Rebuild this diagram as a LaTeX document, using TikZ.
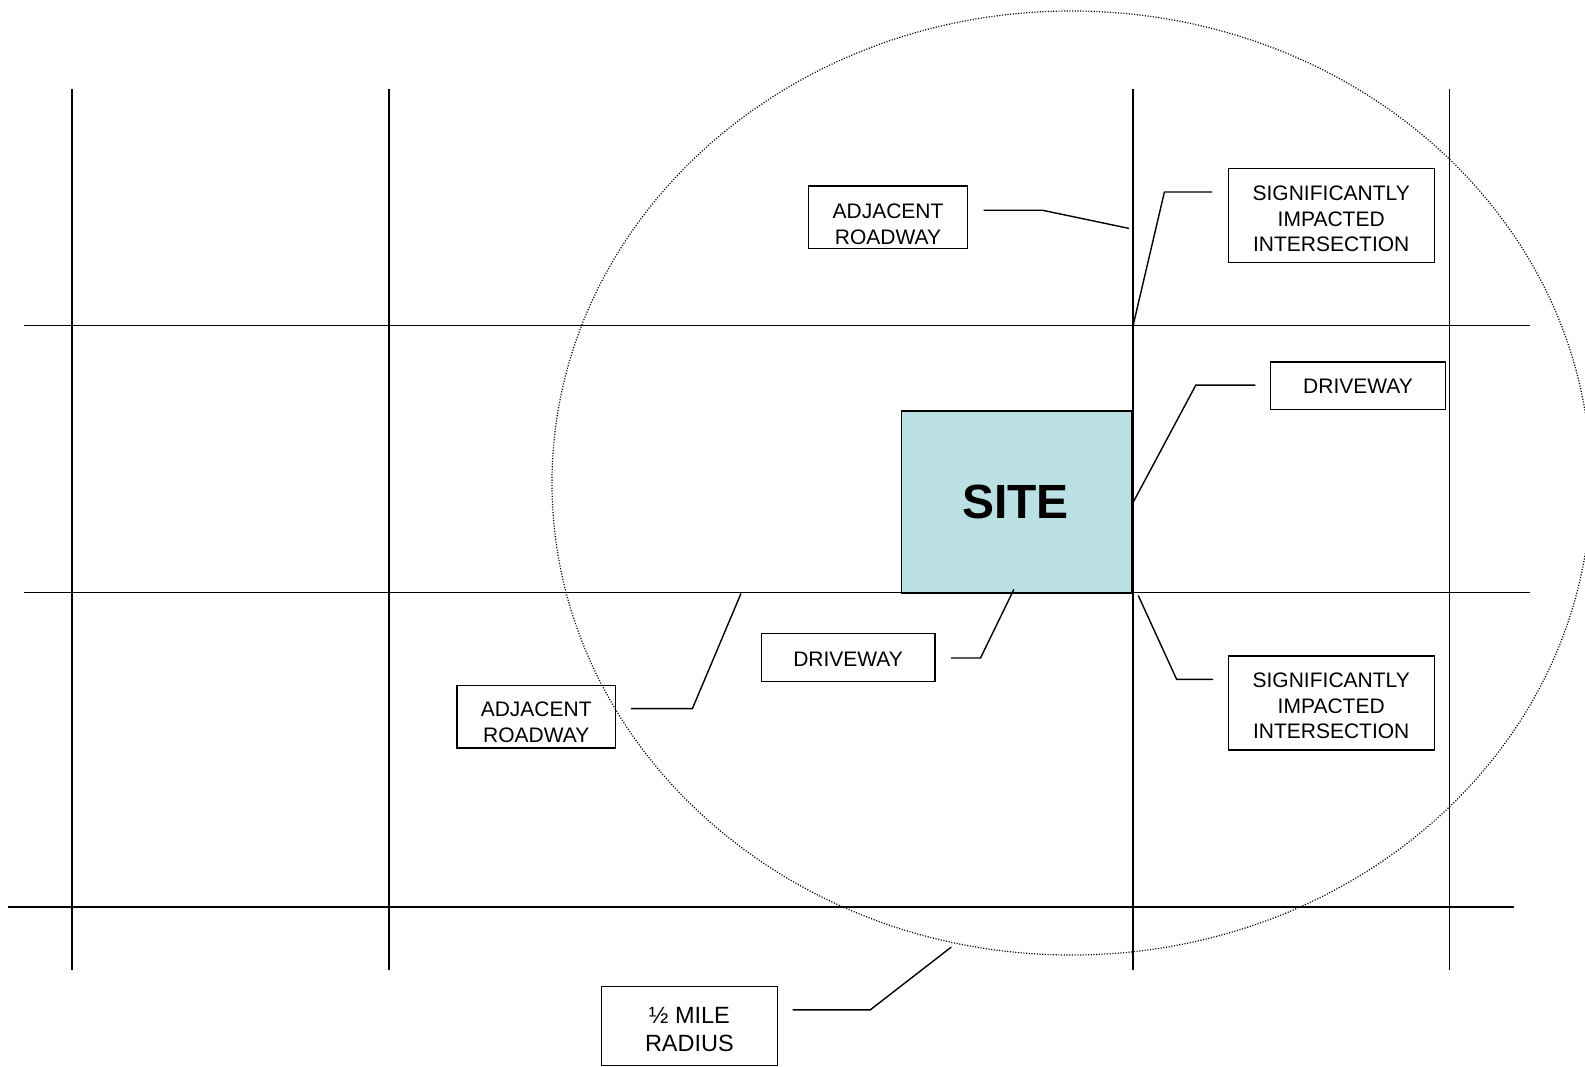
\documentclass[tikz,border=0pt]{standalone}
\usepackage{fontspec}
\setmainfont{Liberation Sans}
\definecolor{sitefill}{RGB}{187,224,227}
% centred lines, lowered inside the box without changing its claimed size
\newcommand\droplines[2]{\raisebox{-#1}[\height][\depth]{\begin{tabular}{@{}c@{}}#2\end{tabular}}}

\begin{document}
\begin{tikzpicture}[x=1pt,y=-1pt,
  road/.style={line width=1.6pt},
  callout/.style={draw, line width=1.3pt, align=center, inner sep=0pt,
    font=\fontsize{21}{25.5}\selectfont},
  leader/.style={line width=1.4pt},
  halfmile/.style={line width=1.2pt, dash pattern=on 1.1pt off 1.6pt}]

\useasboundingbox (0,0) rectangle (1585,1066);

% street grid
\foreach \x in {71.8,389.2,1133.1,1449.5}
  \draw[road] (\x,89) -- (\x,970);
\draw[road] (24.3,325.5) -- (1530.4,325.5);
\draw[road] (24.3,592.3) -- (1530.4,592.3);
\draw[road] (8.1,906.7) -- (1514.2,906.7);

% project site
\node[draw, line width=1.3pt, fill=sitefill, minimum width=230.5pt,
  minimum height=181.9pt, inner sep=0pt, anchor=north west]
  (site) at (900.6,410.4) {};
\node[font=\fontsize{48}{50}\selectfont\bfseries] (sitetext) at (1015.4,502.4) {SITE};

% half mile study radius
\draw[halfmile] (1071.5,483) ellipse [x radius=519.5pt, y radius=472pt];

% labels
\node[callout, minimum width=158.7pt, minimum height=62.7pt] (adjTop) at (888,217.4)
  {\droplines{9pt}{ADJACENT\\ROADWAY}};
\node[callout, minimum width=206.1pt, minimum height=94pt] (sigTop) at (1331.2,215.8)
  {\droplines{5.5pt}{SIGNIFICANTLY\\IMPACTED\\INTERSECTION}};
\node[callout, minimum width=174.9pt, minimum height=47.5pt] (driveR) at (1358,385.6)
  {\droplines{3pt}{DRIVEWAY}};
\node[callout, minimum width=206.1pt, minimum height=94pt] (sigBot) at (1331.2,703)
  {\droplines{5pt}{SIGNIFICANTLY\\IMPACTED\\INTERSECTION}};
\node[callout, minimum width=173.8pt, minimum height=47.5pt] (driveB) at (848.1,657.5)
  {\droplines{4pt}{DRIVEWAY}};
\node[callout, minimum width=158.7pt, minimum height=62.7pt] (adjLeft) at (536.2,716.6)
  {\droplines{8pt}{ADJACENT\\ROADWAY}};
\node[callout, minimum width=175.9pt, minimum height=78.8pt,
  font=\fontsize{23.5}{28.3}\selectfont] (halfMile) at (689.4,1026)
  {\droplines{6pt}{½ MILE\\RADIUS}};

% leader line end points
\coordinate (adjTopA) at (983.5,210.2);
\coordinate (adjTopB) at (1042.2,210.2);
\coordinate (adjTopC) at (1129,228.4);
\coordinate (sigTopA) at (1212,192);
\coordinate (sigTopB) at (1164.4,192);
\coordinate (sigTopC) at (1133.1,325.5);
\coordinate (driveRA) at (1255.4,385.1);
\coordinate (driveRB) at (1195.8,385.1);
\coordinate (driveRC) at (1133.1,502.4);
\coordinate (sigBotA) at (1213,679.3);
\coordinate (sigBotB) at (1176.6,679.3);
\coordinate (sigBotC) at (1138.2,595.4);
\coordinate (driveBA) at (951.2,658);
\coordinate (driveBB) at (980.5,658);
\coordinate (driveBC) at (1013.9,589.3);
\coordinate (adjLeftA) at (630.8,708.6);
\coordinate (adjLeftB) at (692.4,708.6);
\coordinate (adjLeftC) at (741,593.4);
\coordinate (halfMileA) at (792.5,1009.8);
\coordinate (halfMileB) at (870.3,1009.8);
\coordinate (halfMileC) at (951.2,947.1);

% leader lines
\draw[leader] (adjTopA) -- (adjTopB) -- (adjTopC);
\draw[leader] (sigTopA) -- (sigTopB) -- (sigTopC);
\draw[leader] (driveRA) -- (driveRB) -- (driveRC);
\draw[leader] (sigBotA) -- (sigBotB) -- (sigBotC);
\draw[leader] (driveBA) -- (driveBB) -- (driveBC);
\draw[leader] (adjLeftA) -- (adjLeftB) -- (adjLeftC);
\draw[leader] (halfMileA) -- (halfMileB) -- (halfMileC);
\end{tikzpicture}
\end{document}
